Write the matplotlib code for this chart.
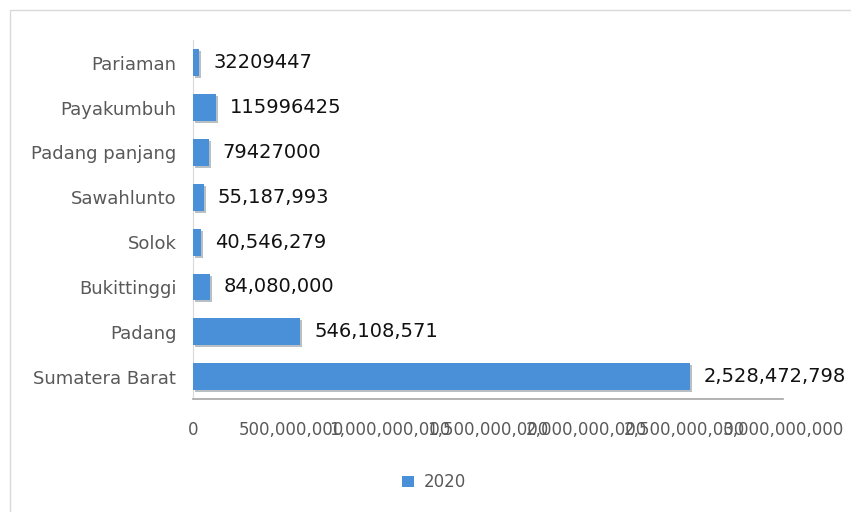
import matplotlib
matplotlib.use("Agg")
import matplotlib.pyplot as plt
import matplotlib.patheffects as pe
from matplotlib.patches import Rectangle
from matplotlib.ticker import FuncFormatter, MultipleLocator

# data (bottom to top as drawn)
regions = ["Sumatera Barat", "Padang", "Bukittinggi", "Solok",
           "Sawahlunto", "Padang panjang", "Payakumbuh", "Pariaman"]
values_2020 = [2528472798, 546108571, 84080000, 40546279,
               55187993, 79427000, 115996425, 32209447]
value_labels = ["2,528,472,798", "546,108,571", "84,080,000", "40,546,279",
                "55,187,993", "79427000", "115996425", "32209447"]
series_name = "2020"

fig = plt.figure(figsize=(8.51, 5.12), dpi=100)
ax = fig.add_axes([0.2268, 0.2207, 0.6932, 0.7003])

# chart frame
fig.patches.append(Rectangle((10 / 851, -0.1), 1.2, 1 - 10 / 512 + 0.1,
                             transform=fig.transFigure, fill=False,
                             edgecolor="#d9d9d9", linewidth=1.0))

ypos = range(len(regions))
bars = ax.barh(ypos, values_2020, height=0.6, color="#4A90D9",
               label=series_name, zorder=3)
for b in bars:
    b.set_path_effects([pe.SimplePatchShadow(offset=(1.5, -1.5), alpha=0.3),
                        pe.Normal()])

for y, v, lab in zip(ypos, values_2020, value_labels):
    ax.annotate(lab, (v, y), xytext=(10, 0), textcoords="offset points",
                va="center", ha="left", fontsize=14, color="#111111",
                annotation_clip=False)

ax.set_xlim(0, 3000000000)
ax.set_ylim(-0.5, len(regions) - 0.5)
ax.xaxis.set_major_locator(MultipleLocator(500000000))
ax.xaxis.set_major_formatter(FuncFormatter(lambda x, p: f"{int(x):,}"))
ax.set_yticks(list(ypos))
ax.set_yticklabels(regions)

ax.tick_params(axis="x", length=0, pad=16, labelsize=12, labelcolor="#595959")
ax.tick_params(axis="y", length=0, pad=12, labelsize=13, labelcolor="#595959")

for s in ["top", "right"]:
    ax.spines[s].set_visible(False)
ax.spines["left"].set_color("#d9d9d9")
ax.spines["bottom"].set_color("#a6a6a6")
ax.spines["bottom"].set_linewidth(1.2)

leg = fig.legend(loc="center", bbox_to_anchor=(0.51, 0.058), frameon=False,
                 fontsize=12, handlelength=0.7, handleheight=0.7,
                 handletextpad=0.6)
for h in leg.legend_handles:
    h.set_path_effects([])
for t in leg.get_texts():
    t.set_color("#595959")

fig.savefig("out.png", dpi=100)
